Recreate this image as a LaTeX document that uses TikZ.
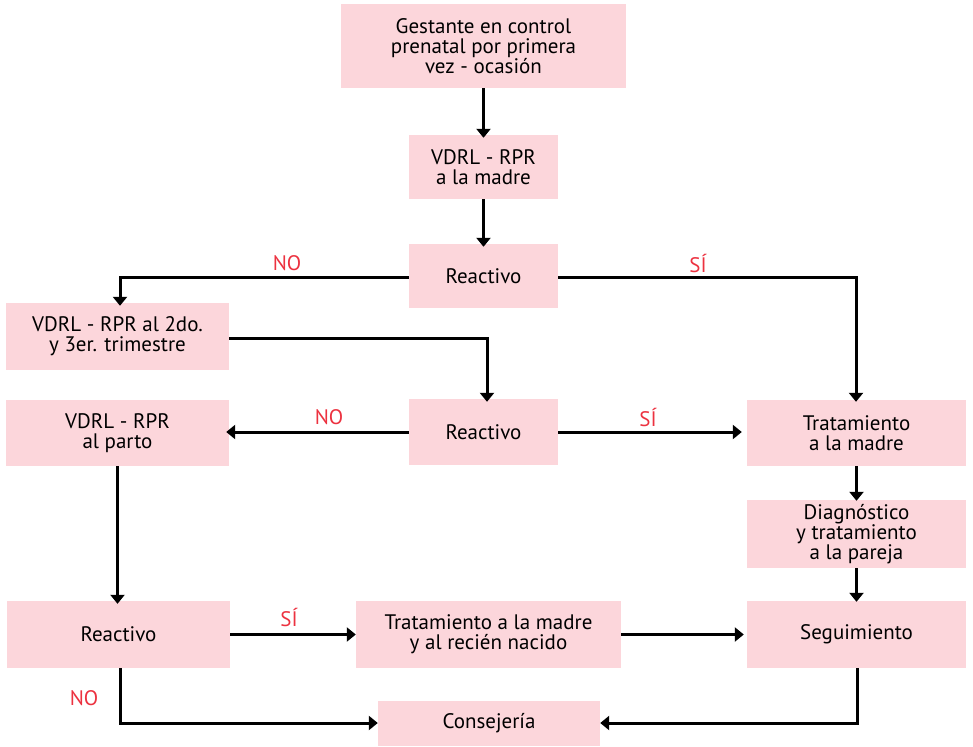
\documentclass[tikz,border=0pt]{standalone}
\usepackage{fontspec}
\setmainfont{PT Sans}
\usetikzlibrary{arrows.meta}
\definecolor{boxpink}{RGB}{252,214,219}
\definecolor{lblred}{RGB}{236,50,64}
\tikzset{
  box/.style={fill=boxpink, draw=none, inner sep=0pt, align=center, font=\fontsize{21}{20}\selectfont, text=black},
  conn/.style={line width=3pt, -{Triangle[width=14pt,length=9pt]}},
  lbl/.style={text=lblred, font=\fontsize{21}{20}\selectfont, inner sep=0pt}
}
\begin{document}
\begin{tikzpicture}[x=1pt,y=-1pt]
\useasboundingbox (0,0) rectangle (973,746);
\node[box, minimum width=285pt, minimum height=84pt] (g) at (483.5,46) {Gestante en control\\prenatal por primera\\vez - ocasión};
\node[box, minimum width=149pt, minimum height=64pt] (v1) at (483.5,167) {VDRL - RPR\\a la madre};
\node[box, minimum width=149pt, minimum height=64pt] (r1) at (483.5,276) {Reactivo};
\node[box, minimum width=223pt, minimum height=67pt] (v2) at (117.5,336.5) {VDRL - RPR al 2do.\\y 3er. trimestre};
\node[box, minimum width=223pt, minimum height=66pt] (vp) at (117.5,433) {VDRL - RPR\\al parto};
\node[box, minimum width=149pt, minimum height=66pt] (r2) at (483.5,432) {Reactivo};
\node[box, minimum width=219pt, minimum height=66pt] (tm) at (856.5,433) {Tratamiento\\a la madre};
\node[box, minimum width=219pt, minimum height=68pt] (dp) at (856.5,534) {Diagnóstico\\y tratamiento\\a la pareja};
\node[box, minimum width=223pt, minimum height=67pt] (r3) at (118.5,634.5) {Reactivo};
\node[box, minimum width=265pt, minimum height=67pt] (trn) at (488.5,634.5) {Tratamiento a la madre\\y al recién nacido};
\node[box, minimum width=219pt, minimum height=67pt] (sg) at (856.5,634.5) {Seguimiento};
\node[box, minimum width=222pt, minimum height=45pt] (cs) at (489,723.5) {Consejería};

\coordinate (c1) at (120,277);
\coordinate (c2) at (856,277);
\coordinate (c3) at (487,338);
\coordinate (c4) at (120,723);
\coordinate (c5) at (857,723);

\draw[conn] (g.south) -- ([yshift=-3pt]v1.north);
\draw[conn] (v1.south) -- ([yshift=-3pt]r1.north);
\draw[conn] (r1.west |- c1) -- (c1) -- ([yshift=-3pt]c1 |- v2.north);
\draw[conn] (r1.east |- c2) -- (c2) -- ([yshift=-2pt]c2 |- tm.north);
\draw[conn] (v2.east |- c3) -- (c3) -- ([yshift=-3pt]c3 |- r2.north);
\draw[conn] (r2.west) -- ([xshift=-3pt]vp.east |- r2.west);
\draw[conn] (r2.east) -- ([xshift=-5pt]tm.west |- r2.east);
\draw[conn] (tm.south) -- ([yshift=-1pt]dp.north);
\draw[conn] (dp.south) -- ([yshift=-1pt]sg.north);
\draw[conn] (vp.south) -- ([yshift=-3pt]vp.south |- r3.north);
\draw[conn] (r3.east) -- (trn.west);
\draw[conn] (trn.east) -- ([xshift=-3pt]sg.west);
\draw[conn] (c4 |- r3.south) -- (c4) -- (cs.west |- c4);
\draw[conn] (c5 |- sg.south) -- (c5) -- (cs.east |- c5);

\node[lbl] (n1) at (287,263) {NO};
\node[lbl] (s1) at (698,263) {SÍ};
\node[lbl] (n2) at (329,417) {NO};
\node[lbl] (s2) at (648,417) {SÍ};
\node[lbl] (s3) at (289,617) {SÍ};
\node[lbl] (n3) at (84,698) {NO};
\end{tikzpicture}
\end{document}
